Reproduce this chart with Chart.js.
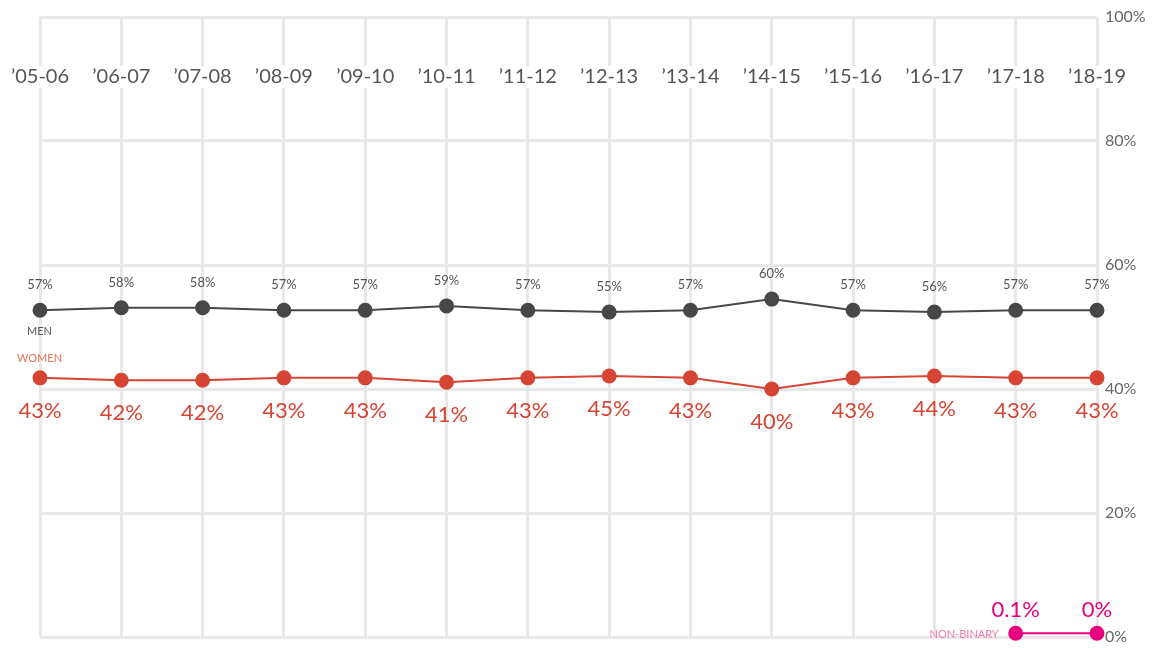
<!DOCTYPE html>
<html>
<head>
<meta charset="utf-8">
<script src="https://cdn.jsdelivr.net/npm/chart.js@4"></script>
<style>
  html, body { margin: 0; padding: 0; background: #fff; }
  #wrap { width: 1155px; height: 648px; }
</style>
</head>
<body>
<div id="wrap"><canvas id="myChart"></canvas></div>
<script>
const years = ["\u201905-06", "\u201906-07", "\u201907-08", "\u201908-09", "\u201909-10", "\u201910-11", "\u201911-12",
  "\u201912-13", "\u201913-14", "\u201914-15", "\u201915-16", "\u201916-17", "\u201917-18", "\u201918-19"];

// plotted positions (as drawn) and the printed labels
const menValues = [52.7, 53.1, 53.1, 52.7, 52.7, 53.4, 52.7, 52.4, 52.7, 54.5, 52.7, 52.4, 52.7, 52.7];
const menLabels = ['57%', '58%', '58%', '57%', '57%', '59%', '57%', '55%', '57%', '60%', '57%', '56%', '57%', '57%'];

const womenValues = [41.8, 41.4, 41.4, 41.8, 41.8, 41.1, 41.8, 42.1, 41.8, 40.0, 41.8, 42.1, 41.8, 41.8];
const womenLabels = ['43%', '42%', '42%', '43%', '43%', '41%', '43%', '45%', '43%', '40%', '43%', '44%', '43%', '43%'];

const nonBinaryValues = [null, null, null, null, null, null, null, null, null, null, null, null, 0.6, 0.6];
const nonBinaryLabels = [null, null, null, null, null, null, null, null, null, null, null, null, '0.1%', '0%'];

const yTicks = [0, 20, 40, 60, 80, 100];

const FONT = 'Lato, "DejaVu Sans", sans-serif';

const ctx = document.getElementById('myChart').getContext('2d');

// year labels across the top, with white boxes over the grid
const topLabels = {
  id: 'topLabels',
  afterDraw(chart) {
    const c = chart.ctx;
    const x = chart.scales.x;
    c.save();
    c.font = '20px ' + FONT;
    c.textAlign = 'center';
    c.textBaseline = 'middle';
    years.forEach((t, i) => {
      const px = x.getPixelForValue(i);
      const w = c.measureText(t).width;
      c.fillStyle = '#fff';
      c.fillRect(px - w / 2 - 2, 66, w + 4, 22);
      c.fillStyle = '#555';
      c.fillText(t, px, 77);
    });
    c.restore();
  }
};

const valueLabels = {
  id: 'valueLabels',
  afterDatasetsDraw(chart) {
    const c = chart.ctx;
    c.save();
    c.textAlign = 'center';
    c.textBaseline = 'middle';
    const men = chart.getDatasetMeta(0).data;
    c.font = '13px ' + FONT;
    c.fillStyle = '#555';
    men.forEach((p, i) => c.fillText(menLabels[i], p.x, p.y - 25));
    const women = chart.getDatasetMeta(1).data;
    c.font = '22px ' + FONT;
    c.fillStyle = '#d64533';
    women.forEach((p, i) => c.fillText(womenLabels[i], p.x, p.y + 33));
    const nb = chart.getDatasetMeta(2).data;
    c.fillStyle = '#e6007e';
    nb.forEach((p, i) => { if (nonBinaryLabels[i]) c.fillText(nonBinaryLabels[i], p.x, p.y - 23); });

    // series names
    c.font = '11px ' + FONT;
    c.textAlign = 'left';
    c.fillStyle = '#555';
    c.fillText('MEN', men[0].x - 13, men[0].y + 21);
    c.fillStyle = '#e8705a';
    c.fillText('WOMEN', women[0].x - 23, women[0].y - 19);
    c.textAlign = 'right';
    c.fillStyle = '#f27bb5';
    c.fillText('NON-BINARY', nb[12].x - 17, nb[12].y + 1);
    c.restore();
  }
};

const config = {
  type: 'line',
  data: {
    labels: years,
    datasets: [
      {
        label: 'Men',
        data: menValues,
        borderColor: '#474747',
        backgroundColor: '#474747',
        borderWidth: 2,
        pointRadius: 6.5,
        pointHoverRadius: 6.5,
        tension: 0,
      },
      {
        label: 'Women',
        data: womenValues,
        borderColor: '#d64533',
        backgroundColor: '#d64533',
        borderWidth: 2,
        pointRadius: 6.5,
        pointHoverRadius: 6.5,
        tension: 0,
      },
      {
        label: 'Non-binary',
        data: nonBinaryValues,
        borderColor: '#e6007e',
        backgroundColor: '#e6007e',
        borderWidth: 2,
        pointRadius: 6.5,
        pointHoverRadius: 6.5,
        tension: 0,
      },
    ],
  },
  options: {
    responsive: true,
    maintainAspectRatio: false,
    animation: false,
    clip: false,
    layout: { autoPadding: false, padding: { left: 40, top: 17, bottom: 11, right: 0 } },
    plugins: {
      legend: { display: false },
      tooltip: { enabled: false },
    },
    scales: {
      x: {
        offset: false,
        afterFit: (axis) => { axis.height = 0; axis.paddingBottom = 0; axis.paddingTop = 0; },
        grid: { color: '#e8e8e8', lineWidth: 3, drawTicks: false },
        border: { display: false },
        ticks: { display: false },
      },
      y: {
        position: 'right',
        min: 0,
        max: 100,
        afterBuildTicks: (axis) => { axis.ticks = yTicks.map(v => ({ value: v })); },
        afterFit: (axis) => { axis.width = 58; axis.paddingBottom = 0; axis.paddingTop = 0; },
        grid: { color: '#e8e8e8', lineWidth: 3, drawTicks: false },
        border: { display: false },
        ticks: {
          padding: 8,
          color: '#666',
          font: { size: 16, family: FONT },
          callback: function (value) {
            return value + '%';
          },
        },
      },
    },
  },
  plugins: [topLabels, valueLabels],
};

const myChart = new Chart(ctx, config);
</script>
</body>
</html>
